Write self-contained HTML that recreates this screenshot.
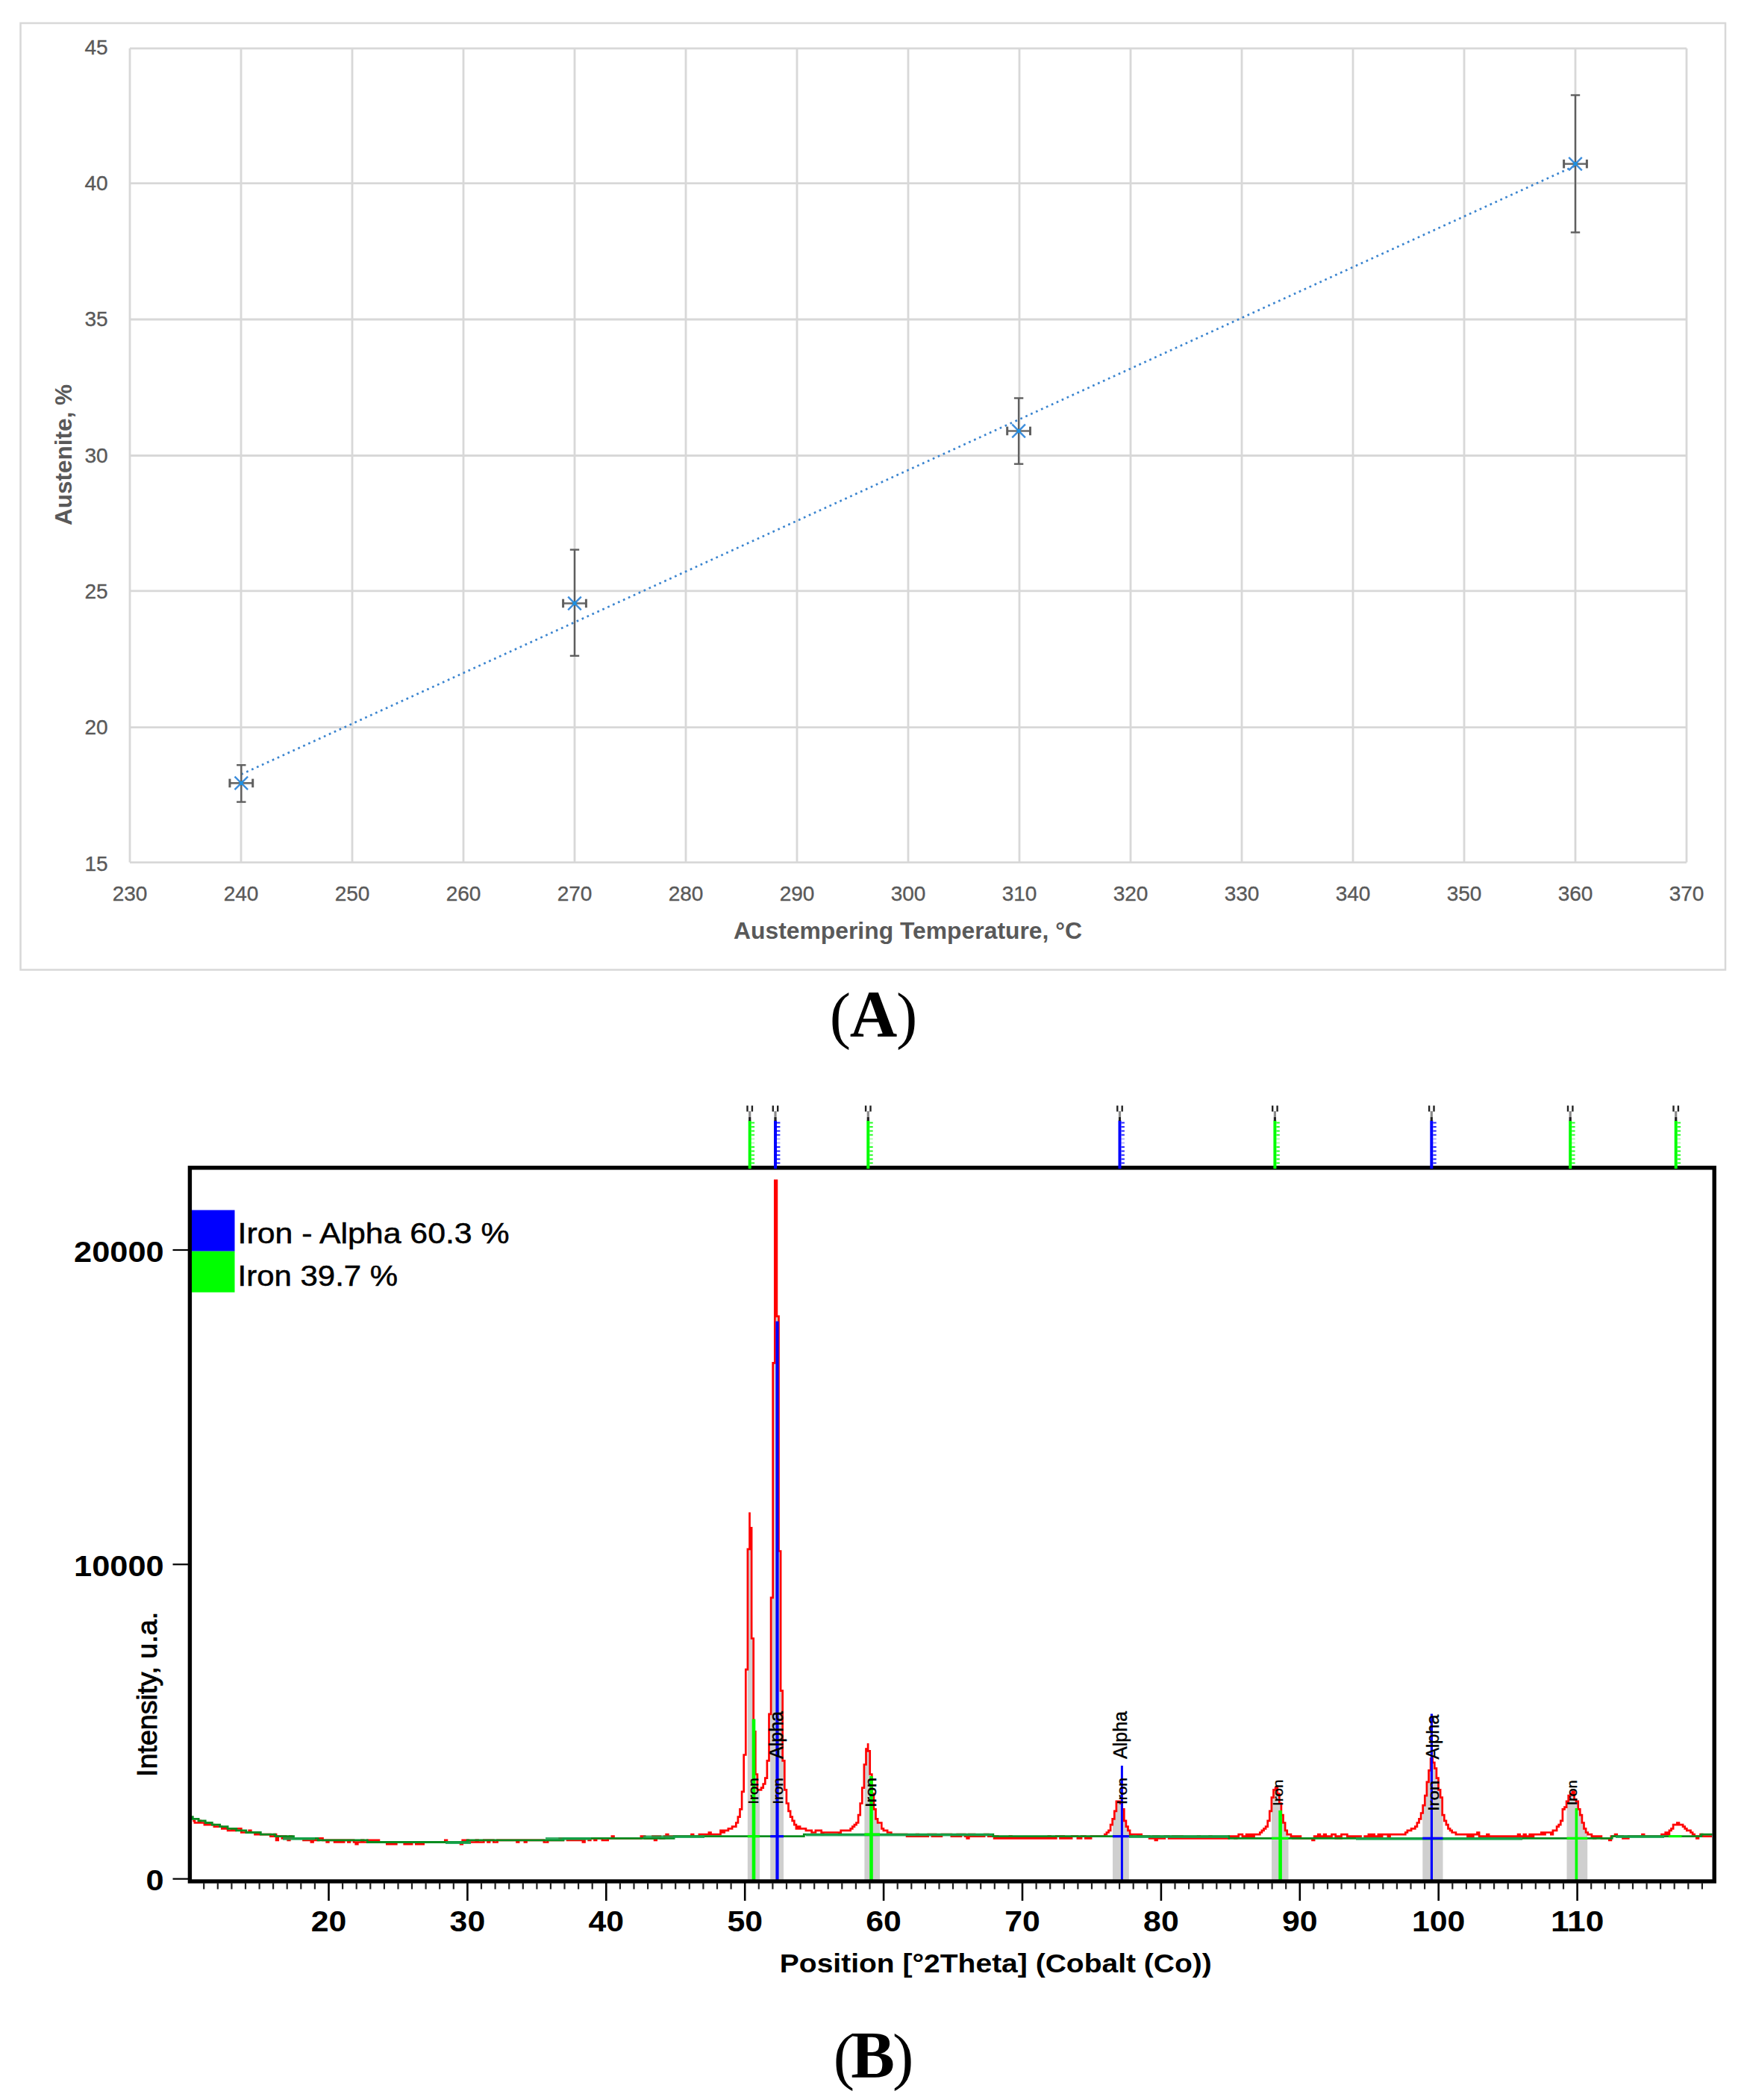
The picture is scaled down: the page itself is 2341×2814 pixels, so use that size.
<!DOCTYPE html>
<html lang="en"><head><meta charset="utf-8"><title>Figure</title>
<style>
html,body{margin:0;padding:0;background:#fff;}
body{width:2341px;height:2814px;overflow:hidden;}
svg{display:block;}
text{white-space:pre;}
</style></head><body>
<svg width="2341" height="2814" viewBox="0 0 2341 2814">
<rect width="2341" height="2814" fill="#fff"/>
<g id="chartA">
<rect x="27.5" y="31" width="2284.5" height="1268.5" fill="#fff" stroke="#d8d8d8" stroke-width="2.5"/>
<g stroke="#d8d8d8" stroke-width="2.8" fill="none">
<line x1="174.0" y1="64.8" x2="174.0" y2="1155.6"/>
<line x1="323.0" y1="64.8" x2="323.0" y2="1155.6"/>
<line x1="472.0" y1="64.8" x2="472.0" y2="1155.6"/>
<line x1="621.0" y1="64.8" x2="621.0" y2="1155.6"/>
<line x1="770.0" y1="64.8" x2="770.0" y2="1155.6"/>
<line x1="919.0" y1="64.8" x2="919.0" y2="1155.6"/>
<line x1="1068.0" y1="64.8" x2="1068.0" y2="1155.6"/>
<line x1="1217.0" y1="64.8" x2="1217.0" y2="1155.6"/>
<line x1="1366.0" y1="64.8" x2="1366.0" y2="1155.6"/>
<line x1="1515.0" y1="64.8" x2="1515.0" y2="1155.6"/>
<line x1="1664.0" y1="64.8" x2="1664.0" y2="1155.6"/>
<line x1="1813.0" y1="64.8" x2="1813.0" y2="1155.6"/>
<line x1="1962.0" y1="64.8" x2="1962.0" y2="1155.6"/>
<line x1="2111.0" y1="64.8" x2="2111.0" y2="1155.6"/>
<line x1="2260.0" y1="64.8" x2="2260.0" y2="1155.6"/>
<line x1="174.0" y1="64.8" x2="2260.0" y2="64.8"/>
<line x1="174.0" y1="245.6" x2="2260.0" y2="245.6"/>
<line x1="174.0" y1="428.0" x2="2260.0" y2="428.0"/>
<line x1="174.0" y1="610.5" x2="2260.0" y2="610.5"/>
<line x1="174.0" y1="791.8" x2="2260.0" y2="791.8"/>
<line x1="174.0" y1="974.6" x2="2260.0" y2="974.6"/>
<line x1="174.0" y1="1155.6" x2="2260.0" y2="1155.6"/>
</g>
<g font-family="'Liberation Sans', Arial, sans-serif" font-size="28" fill="#595959" stroke="#595959" stroke-width="0.35">
<text x="144.6" y="72.8" text-anchor="end">45</text>
<text x="144.6" y="255.1" text-anchor="end">40</text>
<text x="144.6" y="437.4" text-anchor="end">35</text>
<text x="144.6" y="619.7" text-anchor="end">30</text>
<text x="144.6" y="802.0" text-anchor="end">25</text>
<text x="144.6" y="984.3" text-anchor="end">20</text>
<text x="144.6" y="1166.6" text-anchor="end">15</text>
<text x="174.0" y="1206.6" text-anchor="middle">230</text>
<text x="323.0" y="1206.6" text-anchor="middle">240</text>
<text x="472.0" y="1206.6" text-anchor="middle">250</text>
<text x="621.0" y="1206.6" text-anchor="middle">260</text>
<text x="770.0" y="1206.6" text-anchor="middle">270</text>
<text x="919.0" y="1206.6" text-anchor="middle">280</text>
<text x="1068.0" y="1206.6" text-anchor="middle">290</text>
<text x="1217.0" y="1206.6" text-anchor="middle">300</text>
<text x="1366.0" y="1206.6" text-anchor="middle">310</text>
<text x="1515.0" y="1206.6" text-anchor="middle">320</text>
<text x="1664.0" y="1206.6" text-anchor="middle">330</text>
<text x="1813.0" y="1206.6" text-anchor="middle">340</text>
<text x="1962.0" y="1206.6" text-anchor="middle">350</text>
<text x="2111.0" y="1206.6" text-anchor="middle">360</text>
<text x="2260.0" y="1206.6" text-anchor="middle">370</text>
</g>
<text x="1216.5" y="1258.3" text-anchor="middle" font-family="'Liberation Sans', Arial, sans-serif" font-weight="bold" font-size="31" fill="#595959" textLength="467" lengthAdjust="spacingAndGlyphs">Austempering Temperature, °C</text>
<text transform="translate(96,609.5) rotate(-90)" text-anchor="middle" font-family="'Liberation Sans', Arial, sans-serif" font-weight="bold" font-size="31" fill="#595959" textLength="189" lengthAdjust="spacingAndGlyphs">Austenite, %</text>
<line x1="323.3" y1="1037.6" x2="2111" y2="222" stroke="#3a84cf" stroke-width="2.7" stroke-dasharray="2.7 4.9" fill="none"/>
<g stroke="#3c8ddc" stroke-width="2.4" fill="none"><line x1="314.5" y1="1040.6" x2="332.1" y2="1058.2"/><line x1="314.5" y1="1058.2" x2="332.1" y2="1040.6"/></g>
<g stroke="#5f5f5f" fill="none"><line x1="323.3" y1="1025.2" x2="323.3" y2="1074.6" stroke-width="2.4"/><line x1="317.1" y1="1025.2" x2="329.5" y2="1025.2" stroke-width="2.4"/><line x1="317.1" y1="1074.6" x2="329.5" y2="1074.6" stroke-width="2.4"/><line x1="307.3" y1="1049.4" x2="339.3" y2="1049.4" stroke-width="2.6" stroke="#6b6b6b"/><line x1="307.9" y1="1043.6" x2="307.9" y2="1055.2" stroke-width="3"/><line x1="338.7" y1="1043.6" x2="338.7" y2="1055.2" stroke-width="3"/></g>
<rect x="320.7" y="1046.8" width="5.2" height="5.2" fill="#1e8fe0"/>
<g stroke="#3c8ddc" stroke-width="2.4" fill="none"><line x1="761.2" y1="799.7" x2="778.8" y2="817.3"/><line x1="761.2" y1="817.3" x2="778.8" y2="799.7"/></g>
<g stroke="#5f5f5f" fill="none"><line x1="770.0" y1="736.6" x2="770.0" y2="878.8" stroke-width="2.4"/><line x1="763.8" y1="736.6" x2="776.2" y2="736.6" stroke-width="2.4"/><line x1="763.8" y1="878.8" x2="776.2" y2="878.8" stroke-width="2.4"/><line x1="754.0" y1="808.5" x2="786.0" y2="808.5" stroke-width="2.6" stroke="#6b6b6b"/><line x1="754.6" y1="802.7" x2="754.6" y2="814.3" stroke-width="3"/><line x1="785.4" y1="802.7" x2="785.4" y2="814.3" stroke-width="3"/></g>
<rect x="767.4" y="805.9" width="5.2" height="5.2" fill="#1e8fe0"/>
<g stroke="#3c8ddc" stroke-width="2.4" fill="none"><line x1="1356.3" y1="568.7" x2="1373.9" y2="586.3"/><line x1="1356.3" y1="586.3" x2="1373.9" y2="568.7"/></g>
<g stroke="#5f5f5f" fill="none"><line x1="1365.1" y1="533.5" x2="1365.1" y2="621.7" stroke-width="2.4"/><line x1="1358.9" y1="533.5" x2="1371.3" y2="533.5" stroke-width="2.4"/><line x1="1358.9" y1="621.7" x2="1371.3" y2="621.7" stroke-width="2.4"/><line x1="1349.1" y1="577.5" x2="1381.1" y2="577.5" stroke-width="2.6" stroke="#6b6b6b"/><line x1="1349.7" y1="571.7" x2="1349.7" y2="583.3" stroke-width="3"/><line x1="1380.5" y1="571.7" x2="1380.5" y2="583.3" stroke-width="3"/></g>
<rect x="1362.5" y="574.9" width="5.2" height="5.2" fill="#1e8fe0"/>
<g stroke="#3c8ddc" stroke-width="2.4" fill="none"><line x1="2102.2" y1="210.8" x2="2119.8" y2="228.4"/><line x1="2102.2" y1="228.4" x2="2119.8" y2="210.8"/></g>
<g stroke="#5f5f5f" fill="none"><line x1="2111.0" y1="127.5" x2="2111.0" y2="311.4" stroke-width="2.4"/><line x1="2104.8" y1="127.5" x2="2117.2" y2="127.5" stroke-width="2.4"/><line x1="2104.8" y1="311.4" x2="2117.2" y2="311.4" stroke-width="2.4"/><line x1="2095.0" y1="219.6" x2="2127.0" y2="219.6" stroke-width="2.6" stroke="#6b6b6b"/><line x1="2095.6" y1="213.8" x2="2095.6" y2="225.4" stroke-width="3"/><line x1="2126.4" y1="213.8" x2="2126.4" y2="225.4" stroke-width="3"/></g>
<rect x="2108.4" y="217.0" width="5.2" height="5.2" fill="#1e8fe0"/>
</g>
<g font-family="'Liberation Serif', 'Times New Roman', serif" font-size="88" fill="#000"><text x="1111.8" y="1388.6" font-size="85">(</text><text x="1170.5" y="1387.9" font-weight="bold" text-anchor="middle">A</text><text x="1229.3" y="1388.6" font-size="85" text-anchor="end">)</text></g>
<g id="chartB">
<defs><clipPath id="pc"><rect x="257.0" y="1564.8" width="2037.6" height="956.2"/></clipPath></defs>
<g fill="#cfcfcf" stroke="none">
<polygon points="1001.8,2519.0 1001.8,2237.1 1003.1,2075.9 1004.4,2075.9 1005.7,2047.3 1007.0,2047.3 1008.3,2195.5 1009.6,2195.5 1010.9,2320.3 1012.2,2320.3 1013.5,2377.5 1014.8,2377.5 1016.1,2398.3 1017.4,2398.3 1018.1,2398.3 1018.1,2519.0"/>
<polygon points="1032.2,2519.0 1032.2,2296.9 1033.5,2140.9 1034.8,2140.9 1036.1,1826.3 1037.4,1826.3 1038.7,1581.9 1040.0,1581.9 1041.3,1763.9 1042.6,1763.9 1043.9,2078.5 1045.2,2078.5 1046.5,2265.7 1047.8,2265.7 1049.1,2359.3 1050.0,2359.3 1050.0,2519.0"/>
<polygon points="1158.4,2519.0 1158.4,2364.5 1159.7,2364.5 1161.0,2343.7 1162.3,2343.7 1163.6,2346.3 1164.9,2346.3 1166.2,2377.5 1167.5,2377.5 1168.8,2403.5 1170.1,2403.5 1171.4,2424.3 1172.7,2424.3 1174.0,2437.3 1175.3,2437.3 1176.6,2442.5 1177.9,2442.5 1179.0,2442.5 1179.0,2519.0"/>
<polygon points="1491.0,2519.0 1491.0,2437.3 1492.3,2437.3 1493.6,2426.9 1494.9,2426.9 1496.2,2413.9 1497.5,2413.9 1498.8,2413.9 1500.1,2413.9 1501.4,2416.5 1502.7,2416.5 1504.0,2424.3 1505.3,2424.3 1506.6,2439.9 1507.9,2439.9 1509.2,2447.7 1510.5,2447.7 1511.8,2452.9 1512.8,2452.9 1512.8,2519.0"/>
<polygon points="1704.0,2519.0 1704.0,2408.7 1705.3,2408.7 1706.6,2398.3 1707.9,2398.3 1709.2,2395.7 1710.5,2395.7 1711.8,2403.5 1713.1,2403.5 1714.4,2416.5 1715.7,2416.5 1717.0,2432.1 1718.3,2432.1 1719.6,2442.5 1720.9,2442.5 1722.2,2452.9 1723.5,2452.9 1724.8,2458.1 1726.1,2458.1 1726.5,2458.1 1726.5,2519.0"/>
<polygon points="1906.3,2519.0 1906.3,2429.5 1907.6,2419.1 1908.9,2419.1 1910.2,2406.1 1911.5,2406.1 1912.8,2387.9 1914.1,2387.9 1915.4,2372.3 1916.7,2372.3 1918.0,2356.7 1919.3,2356.7 1920.6,2361.9 1921.9,2361.9 1923.2,2369.7 1924.5,2369.7 1925.8,2382.7 1927.1,2382.7 1928.4,2398.3 1929.7,2398.3 1931.0,2408.7 1932.3,2408.7 1933.5,2432.1 1933.5,2519.0"/>
<polygon points="2099.5,2519.0 2099.5,2413.9 2100.8,2413.9 2102.1,2406.1 2103.4,2406.1 2104.7,2403.5 2106.0,2403.5 2107.3,2400.9 2108.6,2400.9 2109.9,2411.3 2111.2,2411.3 2112.5,2413.9 2113.8,2413.9 2115.1,2424.3 2116.4,2424.3 2117.7,2432.1 2119.0,2432.1 2120.3,2442.5 2121.6,2442.5 2122.9,2450.3 2124.2,2450.3 2125.5,2455.5 2126.8,2455.5 2127.2,2455.5 2127.2,2519.0"/>
</g>
<polyline clip-path="url(#pc)" fill="none" stroke="#ff0000" stroke-width="2.7" stroke-linejoin="miter" points="258.3,2439.9 260.9,2439.9 260.9,2442.5 263.5,2442.5 266.1,2442.5 266.1,2439.9 268.7,2439.9 268.7,2442.5 271.3,2442.5 273.9,2442.5 273.9,2445.1 276.5,2445.1 279.1,2445.1 281.7,2445.1 284.3,2445.1 286.9,2445.1 286.9,2447.7 289.5,2447.7 292.1,2447.7 294.7,2447.7 297.3,2447.7 297.3,2450.3 299.9,2450.3 302.5,2450.3 305.1,2450.3 305.1,2452.9 307.7,2452.9 310.3,2452.9 310.3,2450.3 312.9,2450.3 312.9,2452.9 315.5,2452.9 315.5,2450.3 318.1,2450.3 320.7,2450.3 323.3,2450.3 323.3,2455.5 325.9,2455.5 328.5,2455.5 331.1,2455.5 333.7,2455.5 333.7,2452.9 336.3,2452.9 336.3,2455.5 338.9,2455.5 341.5,2455.5 341.5,2458.1 344.1,2458.1 346.7,2458.1 349.3,2458.1 351.9,2458.1 354.5,2458.1 357.1,2458.1 359.7,2458.1 362.3,2458.1 362.3,2460.7 364.9,2460.7 367.5,2460.7 367.5,2458.1 370.1,2458.1 370.1,2465.9 372.7,2465.9 372.7,2460.7 375.3,2460.7 377.9,2460.7 377.9,2463.3 380.5,2463.3 380.5,2460.7 383.1,2460.7 383.1,2463.3 385.7,2463.3 385.7,2465.9 388.3,2465.9 388.3,2460.7 390.9,2460.7 390.9,2463.3 393.5,2463.3 396.1,2463.3 398.7,2463.3 401.3,2463.3 403.9,2463.3 406.5,2463.3 406.5,2465.9 409.1,2465.9 409.1,2463.3 411.7,2463.3 411.7,2465.9 414.3,2465.9 416.9,2465.9 416.9,2468.5 419.5,2468.5 419.5,2463.3 422.1,2463.3 422.1,2465.9 424.7,2465.9 427.3,2465.9 427.3,2463.3 429.9,2463.3 432.5,2463.3 432.5,2465.9 435.1,2465.9 437.7,2465.9 437.7,2468.5 440.3,2468.5 440.3,2465.9 442.9,2465.9 445.5,2465.9 448.1,2465.9 448.1,2468.5 450.7,2468.5 450.7,2465.9 453.3,2465.9 453.3,2468.5 455.9,2468.5 455.9,2465.9 458.5,2465.9 458.5,2468.5 461.1,2468.5 461.1,2465.9 463.7,2465.9 466.3,2465.9 466.3,2468.5 468.9,2468.5 468.9,2465.9 471.5,2465.9 474.1,2465.9 474.1,2468.5 476.7,2468.5 476.7,2471.1 479.3,2471.1 479.3,2468.5 481.9,2468.5 484.5,2468.5 484.5,2465.9 487.1,2465.9 487.1,2468.5 489.7,2468.5 492.3,2468.5 492.3,2465.9 494.9,2465.9 497.5,2465.9 497.5,2468.5 500.1,2468.5 500.1,2465.9 502.7,2465.9 502.7,2468.5 505.3,2468.5 505.3,2465.9 507.9,2465.9 507.9,2468.5 510.5,2468.5 513.1,2468.5 515.7,2468.5 518.3,2468.5 518.3,2471.1 520.9,2471.1 520.9,2468.5 523.5,2468.5 523.5,2471.1 526.1,2471.1 526.1,2468.5 528.7,2468.5 528.7,2471.1 531.3,2471.1 531.3,2468.5 533.9,2468.5 536.5,2468.5 539.1,2468.5 541.7,2468.5 541.7,2471.1 544.3,2471.1 546.9,2471.1 546.9,2468.5 549.5,2468.5 549.5,2471.1 552.1,2471.1 552.1,2468.5 554.7,2468.5 557.3,2468.5 557.3,2471.1 559.9,2471.1 562.5,2471.1 565.1,2471.1 567.7,2471.1 567.7,2468.5 570.3,2468.5 572.9,2468.5 575.5,2468.5 578.1,2468.5 580.7,2468.5 583.3,2468.5 585.9,2468.5 588.5,2468.5 591.1,2468.5 593.7,2468.5 596.3,2468.5 596.3,2465.9 598.9,2465.9 598.9,2468.5 601.5,2468.5 604.1,2468.5 606.7,2468.5 609.3,2468.5 611.9,2468.5 614.5,2468.5 617.1,2468.5 617.1,2471.1 619.7,2471.1 619.7,2465.9 622.3,2465.9 622.3,2468.5 624.9,2468.5 624.9,2465.9 627.5,2465.9 627.5,2468.5 630.1,2468.5 632.7,2468.5 635.3,2468.5 637.9,2468.5 637.9,2465.9 640.5,2465.9 640.5,2468.5 643.1,2468.5 645.7,2468.5 648.3,2468.5 648.3,2465.9 650.9,2465.9 653.5,2465.9 653.5,2468.5 656.1,2468.5 656.1,2465.9 658.7,2465.9 661.3,2465.9 661.3,2468.5 663.9,2468.5 666.5,2468.5 666.5,2465.9 669.1,2465.9 671.7,2465.9 674.3,2465.9 676.9,2465.9 679.5,2465.9 682.1,2465.9 684.7,2465.9 687.3,2465.9 689.9,2465.9 692.5,2465.9 692.5,2468.5 695.1,2468.5 695.1,2465.9 697.7,2465.9 700.3,2465.9 702.9,2465.9 702.9,2468.5 705.5,2468.5 705.5,2465.9 708.1,2465.9 710.7,2465.9 713.3,2465.9 715.9,2465.9 718.5,2465.9 721.1,2465.9 723.7,2465.9 726.3,2465.9 728.9,2465.9 728.9,2468.5 731.5,2468.5 734.1,2468.5 734.1,2465.9 736.7,2465.9 739.3,2465.9 741.9,2465.9 744.5,2465.9 747.1,2465.9 749.7,2465.9 749.7,2463.3 752.3,2463.3 752.3,2465.9 754.9,2465.9 754.9,2463.3 757.5,2463.3 760.1,2463.3 760.1,2465.9 762.7,2465.9 762.7,2463.3 765.3,2463.3 765.3,2465.9 767.9,2465.9 767.9,2463.3 770.5,2463.3 770.5,2465.9 773.1,2465.9 773.1,2463.3 775.7,2463.3 775.7,2465.9 778.3,2465.9 780.9,2465.9 780.9,2468.5 783.5,2468.5 783.5,2463.3 786.1,2463.3 788.7,2463.3 788.7,2465.9 791.3,2465.9 791.3,2463.3 793.9,2463.3 796.5,2463.3 796.5,2465.9 799.1,2465.9 799.1,2463.3 801.7,2463.3 804.3,2463.3 806.9,2463.3 806.9,2465.9 809.5,2465.9 812.1,2465.9 814.7,2465.9 814.7,2463.3 817.3,2463.3 819.9,2463.3 819.9,2460.7 822.5,2460.7 822.5,2463.3 825.1,2463.3 827.7,2463.3 830.3,2463.3 832.9,2463.3 835.5,2463.3 838.1,2463.3 840.7,2463.3 843.3,2463.3 845.9,2463.3 848.5,2463.3 851.1,2463.3 853.7,2463.3 856.3,2463.3 858.9,2463.3 858.9,2460.7 861.5,2460.7 864.1,2460.7 864.1,2463.3 866.7,2463.3 869.3,2463.3 871.9,2463.3 874.5,2463.3 874.5,2460.7 877.1,2460.7 877.1,2465.9 879.7,2465.9 879.7,2460.7 882.3,2460.7 884.9,2460.7 884.9,2463.3 887.5,2463.3 890.1,2463.3 890.1,2460.7 892.7,2460.7 892.7,2458.1 895.3,2458.1 895.3,2460.7 897.9,2460.7 900.5,2460.7 903.1,2460.7 905.7,2460.7 908.3,2460.7 910.9,2460.7 913.5,2460.7 916.1,2460.7 918.7,2460.7 921.3,2460.7 923.9,2460.7 926.5,2460.7 926.5,2458.1 929.1,2458.1 929.1,2460.7 931.7,2460.7 934.3,2460.7 936.9,2460.7 936.9,2458.1 939.5,2458.1 942.1,2458.1 944.7,2458.1 947.3,2458.1 949.9,2458.1 949.9,2455.5 952.5,2455.5 952.5,2458.1 955.1,2458.1 957.7,2458.1 960.3,2458.1 962.9,2458.1 965.5,2458.1 965.5,2452.9 968.1,2452.9 968.1,2455.5 970.7,2455.5 970.7,2452.9 973.3,2452.9 975.9,2452.9 975.9,2450.3 978.5,2450.3 981.1,2450.3 981.1,2447.7 983.7,2447.7 986.3,2447.7 986.3,2442.5 988.9,2442.5 988.9,2434.7 991.5,2434.7 991.5,2424.3 994.1,2424.3 994.1,2400.9 996.7,2400.9 996.7,2351.5 999.3,2351.5 999.3,2237.1 1001.9,2237.1 1001.9,2075.9 1004.5,2075.9 1004.5,2026.5 1004.5,2047.3 1007.1,2047.3 1007.1,2195.5 1009.7,2195.5 1009.7,2320.3 1012.3,2320.3 1012.3,2377.5 1014.9,2377.5 1014.9,2398.3 1017.5,2398.3 1020.1,2398.3 1020.1,2395.7 1022.7,2395.7 1022.7,2390.5 1025.3,2390.5 1025.3,2382.7 1027.9,2382.7 1027.9,2359.3 1030.5,2359.3 1030.5,2296.9 1033.1,2296.9 1033.1,2140.9 1035.7,2140.9 1035.7,1826.3 1038.3,1826.3 1038.3,1584.5 1038.3,1581.9 1040.9,1581.9 1040.9,1763.9 1043.5,1763.9 1043.5,2078.5 1046.1,2078.5 1046.1,2265.7 1048.7,2265.7 1048.7,2359.3 1051.3,2359.3 1051.3,2398.3 1053.9,2398.3 1053.9,2416.5 1056.5,2416.5 1056.5,2426.9 1059.1,2426.9 1059.1,2434.7 1061.7,2434.7 1061.7,2439.9 1064.3,2439.9 1064.3,2445.1 1066.9,2445.1 1066.9,2450.3 1069.5,2450.3 1069.5,2447.7 1072.1,2447.7 1072.1,2450.3 1074.7,2450.3 1077.3,2450.3 1079.9,2450.3 1079.9,2452.9 1082.5,2452.9 1085.1,2452.9 1087.7,2452.9 1087.7,2455.5 1090.3,2455.5 1092.9,2455.5 1092.9,2452.9 1095.5,2452.9 1098.1,2452.9 1100.7,2452.9 1100.7,2458.1 1103.3,2458.1 1103.3,2455.5 1105.9,2455.5 1108.5,2455.5 1111.1,2455.5 1113.7,2455.5 1116.3,2455.5 1118.9,2455.5 1121.5,2455.5 1124.1,2455.5 1124.1,2458.1 1126.7,2458.1 1126.7,2452.9 1129.3,2452.9 1131.9,2452.9 1134.5,2452.9 1137.1,2452.9 1139.7,2452.9 1139.7,2450.3 1142.3,2450.3 1142.3,2447.7 1144.9,2447.7 1144.9,2445.1 1147.5,2445.1 1147.5,2442.5 1150.1,2442.5 1150.1,2432.1 1152.7,2432.1 1152.7,2416.5 1155.3,2416.5 1155.3,2395.7 1157.9,2395.7 1157.9,2364.5 1160.5,2364.5 1160.5,2343.7 1163.1,2343.7 1163.1,2335.9 1163.1,2346.3 1165.7,2346.3 1165.7,2377.5 1168.3,2377.5 1168.3,2403.5 1170.9,2403.5 1170.9,2424.3 1173.5,2424.3 1173.5,2437.3 1176.1,2437.3 1176.1,2442.5 1178.7,2442.5 1181.3,2442.5 1181.3,2450.3 1183.9,2450.3 1183.9,2452.9 1186.5,2452.9 1189.1,2452.9 1189.1,2455.5 1191.7,2455.5 1194.3,2455.5 1194.3,2458.1 1196.9,2458.1 1199.5,2458.1 1202.1,2458.1 1204.7,2458.1 1207.3,2458.1 1209.9,2458.1 1212.5,2458.1 1215.1,2458.1 1215.1,2460.7 1217.7,2460.7 1220.3,2460.7 1222.9,2460.7 1225.5,2460.7 1228.1,2460.7 1228.1,2458.1 1230.7,2458.1 1230.7,2460.7 1233.3,2460.7 1235.9,2460.7 1238.5,2460.7 1241.1,2460.7 1243.7,2460.7 1243.7,2458.1 1246.3,2458.1 1248.9,2458.1 1248.9,2460.7 1251.5,2460.7 1251.5,2458.1 1254.1,2458.1 1254.1,2460.7 1256.7,2460.7 1259.3,2460.7 1261.9,2460.7 1261.9,2458.1 1264.5,2458.1 1267.1,2458.1 1269.7,2458.1 1272.3,2458.1 1274.9,2458.1 1274.9,2460.7 1277.5,2460.7 1280.1,2460.7 1282.7,2460.7 1282.7,2458.1 1285.3,2458.1 1285.3,2460.7 1287.9,2460.7 1287.9,2458.1 1290.5,2458.1 1293.1,2458.1 1293.1,2460.7 1295.7,2460.7 1295.7,2463.3 1298.3,2463.3 1298.3,2458.1 1300.9,2458.1 1300.9,2460.7 1303.5,2460.7 1303.5,2458.1 1306.1,2458.1 1306.1,2460.7 1308.7,2460.7 1311.3,2460.7 1313.9,2460.7 1316.5,2460.7 1319.1,2460.7 1319.1,2458.1 1321.7,2458.1 1324.3,2458.1 1324.3,2460.7 1326.9,2460.7 1329.5,2460.7 1332.1,2460.7 1332.1,2463.3 1334.7,2463.3 1334.7,2460.7 1337.3,2460.7 1337.3,2463.3 1339.9,2463.3 1342.5,2463.3 1345.1,2463.3 1347.7,2463.3 1350.3,2463.3 1352.9,2463.3 1352.9,2460.7 1355.5,2460.7 1355.5,2463.3 1358.1,2463.3 1360.7,2463.3 1363.3,2463.3 1365.9,2463.3 1368.5,2463.3 1371.1,2463.3 1373.7,2463.3 1376.3,2463.3 1378.9,2463.3 1381.5,2463.3 1384.1,2463.3 1386.7,2463.3 1389.3,2463.3 1391.9,2463.3 1394.5,2463.3 1397.1,2463.3 1399.7,2463.3 1402.3,2463.3 1404.9,2463.3 1404.9,2460.7 1407.5,2460.7 1407.5,2463.3 1410.1,2463.3 1412.7,2463.3 1415.3,2463.3 1415.3,2460.7 1417.9,2460.7 1420.5,2460.7 1420.5,2463.3 1423.1,2463.3 1423.1,2460.7 1425.7,2460.7 1425.7,2463.3 1428.3,2463.3 1430.9,2463.3 1433.5,2463.3 1436.1,2463.3 1436.1,2460.7 1438.7,2460.7 1441.3,2460.7 1443.9,2460.7 1443.9,2463.3 1446.5,2463.3 1449.1,2463.3 1449.1,2460.7 1451.7,2460.7 1454.3,2460.7 1454.3,2463.3 1456.9,2463.3 1459.5,2463.3 1462.1,2463.3 1462.1,2460.7 1464.7,2460.7 1467.3,2460.7 1469.9,2460.7 1472.5,2460.7 1475.1,2460.7 1477.7,2460.7 1480.3,2460.7 1480.3,2458.1 1482.9,2458.1 1482.9,2455.5 1485.5,2455.5 1485.5,2452.9 1488.1,2452.9 1488.1,2445.1 1490.7,2445.1 1490.7,2437.3 1493.3,2437.3 1493.3,2426.9 1495.9,2426.9 1495.9,2413.9 1498.5,2413.9 1501.1,2413.9 1501.1,2416.5 1503.7,2416.5 1503.7,2424.3 1506.3,2424.3 1506.3,2439.9 1508.9,2439.9 1508.9,2447.7 1511.5,2447.7 1511.5,2452.9 1514.1,2452.9 1514.1,2460.7 1516.7,2460.7 1516.7,2458.1 1519.3,2458.1 1521.9,2458.1 1524.5,2458.1 1524.5,2460.7 1527.1,2460.7 1527.1,2458.1 1529.7,2458.1 1529.7,2460.7 1532.3,2460.7 1534.9,2460.7 1537.5,2460.7 1540.1,2460.7 1540.1,2463.3 1542.7,2463.3 1545.3,2463.3 1545.3,2460.7 1547.9,2460.7 1547.9,2465.9 1550.5,2465.9 1550.5,2460.7 1553.1,2460.7 1553.1,2463.3 1555.7,2463.3 1558.3,2463.3 1560.9,2463.3 1560.9,2460.7 1563.5,2460.7 1566.1,2460.7 1566.1,2463.3 1568.7,2463.3 1571.3,2463.3 1571.3,2460.7 1573.9,2460.7 1573.9,2463.3 1576.5,2463.3 1576.5,2460.7 1579.1,2460.7 1579.1,2463.3 1581.7,2463.3 1581.7,2460.7 1584.3,2460.7 1584.3,2463.3 1586.9,2463.3 1589.5,2463.3 1592.1,2463.3 1594.7,2463.3 1597.3,2463.3 1599.9,2463.3 1602.5,2463.3 1605.1,2463.3 1605.1,2460.7 1607.7,2460.7 1607.7,2463.3 1610.3,2463.3 1612.9,2463.3 1615.5,2463.3 1618.1,2463.3 1620.7,2463.3 1620.7,2460.7 1623.3,2460.7 1623.3,2463.3 1625.9,2463.3 1628.5,2463.3 1631.1,2463.3 1633.7,2463.3 1636.3,2463.3 1638.9,2463.3 1641.5,2463.3 1644.1,2463.3 1646.7,2463.3 1646.7,2460.7 1649.3,2460.7 1651.9,2460.7 1654.5,2460.7 1654.5,2463.3 1657.1,2463.3 1657.1,2460.7 1659.7,2460.7 1659.7,2458.1 1662.3,2458.1 1664.9,2458.1 1664.9,2460.7 1667.5,2460.7 1670.1,2460.7 1670.1,2458.1 1672.7,2458.1 1672.7,2460.7 1675.3,2460.7 1675.3,2458.1 1677.9,2458.1 1677.9,2460.7 1680.5,2460.7 1680.5,2458.1 1683.1,2458.1 1685.7,2458.1 1688.3,2458.1 1688.3,2455.5 1690.9,2455.5 1690.9,2452.9 1693.5,2452.9 1693.5,2450.3 1696.1,2450.3 1696.1,2447.7 1698.7,2447.7 1698.7,2439.9 1701.3,2439.9 1701.3,2426.9 1703.9,2426.9 1703.9,2408.7 1706.5,2408.7 1706.5,2398.3 1709.1,2398.3 1709.1,2395.7 1711.7,2395.7 1711.7,2403.5 1714.3,2403.5 1714.3,2416.5 1716.9,2416.5 1716.9,2432.1 1719.5,2432.1 1719.5,2442.5 1722.1,2442.5 1722.1,2452.9 1724.7,2452.9 1724.7,2458.1 1727.3,2458.1 1729.9,2458.1 1729.9,2460.7 1732.5,2460.7 1732.5,2463.3 1735.1,2463.3 1735.1,2460.7 1737.7,2460.7 1737.7,2463.3 1740.3,2463.3 1740.3,2460.7 1742.9,2460.7 1742.9,2463.3 1745.5,2463.3 1748.1,2463.3 1750.7,2463.3 1753.3,2463.3 1755.9,2463.3 1758.5,2463.3 1758.5,2465.9 1761.1,2465.9 1761.1,2460.7 1763.7,2460.7 1766.3,2460.7 1766.3,2458.1 1768.9,2458.1 1768.9,2460.7 1771.5,2460.7 1774.1,2460.7 1774.1,2458.1 1776.7,2458.1 1776.7,2460.7 1779.3,2460.7 1781.9,2460.7 1784.5,2460.7 1784.5,2458.1 1787.1,2458.1 1789.7,2458.1 1789.7,2463.3 1792.3,2463.3 1792.3,2460.7 1794.9,2460.7 1794.9,2463.3 1797.5,2463.3 1797.5,2458.1 1800.1,2458.1 1802.7,2458.1 1805.3,2458.1 1805.3,2460.7 1807.9,2460.7 1810.5,2460.7 1813.1,2460.7 1815.7,2460.7 1818.3,2460.7 1820.9,2460.7 1823.5,2460.7 1823.5,2463.3 1826.1,2463.3 1828.7,2463.3 1828.7,2460.7 1831.3,2460.7 1833.9,2460.7 1833.9,2458.1 1836.5,2458.1 1836.5,2460.7 1839.1,2460.7 1839.1,2458.1 1841.7,2458.1 1841.7,2460.7 1844.3,2460.7 1846.9,2460.7 1846.9,2458.1 1849.5,2458.1 1849.5,2460.7 1852.1,2460.7 1852.1,2458.1 1854.7,2458.1 1857.3,2458.1 1859.9,2458.1 1859.9,2460.7 1862.5,2460.7 1862.5,2458.1 1865.1,2458.1 1867.7,2458.1 1870.3,2458.1 1872.9,2458.1 1875.5,2458.1 1878.1,2458.1 1880.7,2458.1 1883.3,2458.1 1883.3,2455.5 1885.9,2455.5 1885.9,2452.9 1888.5,2452.9 1891.1,2452.9 1891.1,2450.3 1893.7,2450.3 1896.3,2450.3 1896.3,2447.7 1898.9,2447.7 1898.9,2442.5 1901.5,2442.5 1901.5,2437.3 1904.1,2437.3 1904.1,2429.5 1906.7,2429.5 1906.7,2419.1 1909.3,2419.1 1909.3,2406.1 1911.9,2406.1 1911.9,2387.9 1914.5,2387.9 1914.5,2372.3 1917.1,2372.3 1917.1,2356.7 1919.7,2356.7 1919.7,2361.9 1922.3,2361.9 1922.3,2369.7 1924.9,2369.7 1924.9,2382.7 1927.5,2382.7 1927.5,2398.3 1930.1,2398.3 1930.1,2408.7 1932.7,2408.7 1932.7,2432.1 1935.3,2432.1 1935.3,2439.9 1937.9,2439.9 1937.9,2445.1 1940.5,2445.1 1940.5,2450.3 1943.1,2450.3 1943.1,2452.9 1945.7,2452.9 1945.7,2455.5 1948.3,2455.5 1950.9,2455.5 1950.9,2458.1 1953.5,2458.1 1956.1,2458.1 1958.7,2458.1 1961.3,2458.1 1963.9,2458.1 1966.5,2458.1 1966.5,2460.7 1969.1,2460.7 1969.1,2458.1 1971.7,2458.1 1971.7,2460.7 1974.3,2460.7 1974.3,2458.1 1976.9,2458.1 1979.5,2458.1 1979.5,2455.5 1982.1,2455.5 1982.1,2460.7 1984.7,2460.7 1987.3,2460.7 1989.9,2460.7 1992.5,2460.7 1992.5,2458.1 1995.1,2458.1 1995.1,2460.7 1997.7,2460.7 2000.3,2460.7 2002.9,2460.7 2005.5,2460.7 2008.1,2460.7 2010.7,2460.7 2013.3,2460.7 2015.9,2460.7 2018.5,2460.7 2021.1,2460.7 2023.7,2460.7 2026.3,2460.7 2028.9,2460.7 2031.5,2460.7 2034.1,2460.7 2034.1,2458.1 2036.7,2458.1 2036.7,2463.3 2039.3,2463.3 2039.3,2460.7 2041.9,2460.7 2041.9,2458.1 2044.5,2458.1 2044.5,2460.7 2047.1,2460.7 2049.7,2460.7 2049.7,2458.1 2052.3,2458.1 2052.3,2460.7 2054.9,2460.7 2054.9,2458.1 2057.5,2458.1 2060.1,2458.1 2062.7,2458.1 2065.3,2458.1 2065.3,2455.5 2067.9,2455.5 2067.9,2458.1 2070.5,2458.1 2070.5,2455.5 2073.1,2455.5 2075.7,2455.5 2078.3,2455.5 2078.3,2458.1 2080.9,2458.1 2080.9,2452.9 2083.5,2452.9 2086.1,2452.9 2086.1,2447.7 2088.7,2447.7 2088.7,2445.1 2091.3,2445.1 2091.3,2439.9 2093.9,2439.9 2093.9,2424.3 2096.5,2424.3 2096.5,2421.7 2099.1,2421.7 2099.1,2413.9 2101.7,2413.9 2101.7,2406.1 2104.3,2406.1 2104.3,2403.5 2106.9,2403.5 2106.9,2400.9 2109.5,2400.9 2109.5,2411.3 2112.1,2411.3 2112.1,2413.9 2114.7,2413.9 2114.7,2424.3 2117.3,2424.3 2117.3,2432.1 2119.9,2432.1 2119.9,2442.5 2122.5,2442.5 2122.5,2450.3 2125.1,2450.3 2125.1,2455.5 2127.7,2455.5 2127.7,2458.1 2130.3,2458.1 2132.9,2458.1 2132.9,2460.7 2135.5,2460.7 2135.5,2463.3 2138.1,2463.3 2138.1,2460.7 2140.7,2460.7 2143.3,2460.7 2145.9,2460.7 2145.9,2463.3 2148.5,2463.3 2151.1,2463.3 2153.7,2463.3 2156.3,2463.3 2156.3,2465.9 2158.9,2465.9 2158.9,2460.7 2161.5,2460.7 2164.1,2460.7 2164.1,2458.1 2166.7,2458.1 2166.7,2460.7 2169.3,2460.7 2171.9,2460.7 2174.5,2460.7 2174.5,2463.3 2177.1,2463.3 2179.7,2463.3 2182.3,2463.3 2182.3,2460.7 2184.9,2460.7 2187.5,2460.7 2190.1,2460.7 2192.7,2460.7 2195.3,2460.7 2197.9,2460.7 2200.5,2460.7 2200.5,2458.1 2203.1,2458.1 2203.1,2460.7 2205.7,2460.7 2208.3,2460.7 2210.9,2460.7 2213.5,2460.7 2216.1,2460.7 2218.7,2460.7 2221.3,2460.7 2223.9,2460.7 2226.5,2460.7 2226.5,2458.1 2229.1,2458.1 2231.7,2458.1 2231.7,2455.5 2234.3,2455.5 2234.3,2458.1 2236.9,2458.1 2236.9,2452.9 2239.5,2452.9 2239.5,2450.3 2242.1,2450.3 2242.1,2445.1 2244.7,2445.1 2247.3,2445.1 2247.3,2442.5 2249.9,2442.5 2249.9,2445.1 2252.5,2445.1 2255.1,2445.1 2255.1,2447.7 2257.7,2447.7 2257.7,2450.3 2260.3,2450.3 2260.3,2452.9 2262.9,2452.9 2265.5,2452.9 2265.5,2455.5 2268.1,2455.5 2268.1,2458.1 2270.7,2458.1 2270.7,2460.7 2273.3,2460.7 2273.3,2463.3 2275.9,2463.3 2275.9,2460.7 2278.5,2460.7 2278.5,2458.1 2281.1,2458.1 2281.1,2460.7 2283.7,2460.7 2286.3,2460.7 2288.9,2460.7 2291.5,2460.7 2294.1,2460.7"/>
<polyline fill="none" stroke="#078c1f" stroke-width="2.8" stroke-linejoin="miter" points="257.0,2434.7 258.3,2434.7 258.3,2437.3 266.1,2437.3 266.1,2439.9 275.2,2439.9 275.2,2442.5 284.3,2442.5 284.3,2445.1 294.7,2445.1 294.7,2447.7 305.1,2447.7 305.1,2450.3 316.8,2450.3 316.8,2452.9 329.8,2452.9 329.8,2455.5 349.3,2455.5 349.3,2458.1 368.8,2458.1 368.8,2460.7 393.5,2460.7 393.5,2463.3 426.0,2463.3 426.0,2465.9 492.3,2465.9 492.3,2468.5 626.2,2468.5 626.2,2465.9 754.9,2465.9 754.9,2463.3 903.1,2463.3 903.1,2460.7 1077.3,2460.7 1077.3,2458.1 1330.8,2458.1 1330.8,2460.7 1646.7,2460.7 1646.7,2463.3 2160.2,2463.3 2160.2,2460.7 2279.8,2460.7 2279.8,2458.1 2294.6,2458.1"/>
<line x1="1080" y1="2458.7" x2="1330" y2="2458.7" stroke="#14a44c" stroke-width="3.6" opacity="0.85"/>
<line x1="1513" y1="2461.3" x2="1646" y2="2461.3" stroke="#14a44c" stroke-width="3.6" opacity="0.85"/>
<line x1="1817" y1="2463.9" x2="2040" y2="2463.9" stroke="#14a44c" stroke-width="3.6" opacity="0.85"/>
<line x1="2165" y1="2461.3" x2="2230" y2="2461.3" stroke="#14a44c" stroke-width="3.6" opacity="0.85"/>
<line x1="379" y1="2463.9" x2="422" y2="2463.9" stroke="#14a44c" stroke-width="3.6" opacity="0.85"/>
<line x1="597" y1="2469.1" x2="631" y2="2469.1" stroke="#14a44c" stroke-width="3.6" opacity="0.85"/>
<line x1="731" y1="2463.9" x2="792" y2="2463.9" stroke="#14a44c" stroke-width="3.6" opacity="0.85"/>
<line x1="862" y1="2461.3" x2="944" y2="2461.3" stroke="#14a44c" stroke-width="3.6" opacity="0.85"/>
<line x1="1001.8" y1="2460.7" x2="1018.1" y2="2460.7" stroke="#00ff00" stroke-width="3.2"/>
<line x1="1010.0" y1="2303.5" x2="1010.0" y2="2519" stroke="#00ff00" stroke-width="4.6"/>
<line x1="1032.2" y1="2460.7" x2="1050.0" y2="2460.7" stroke="#0000ff" stroke-width="3.2"/>
<line x1="1041.5" y1="1770.5" x2="1041.5" y2="2519" stroke="#0000ff" stroke-width="4.2"/>
<line x1="1158.4" y1="2458.1" x2="1179.0" y2="2458.1" stroke="#00ff00" stroke-width="3.2"/>
<line x1="1167.5" y1="2380.0" x2="1167.5" y2="2519" stroke="#00ff00" stroke-width="4.6"/>
<line x1="1491.0" y1="2460.7" x2="1512.8" y2="2460.7" stroke="#0000ff" stroke-width="3.2"/>
<line x1="1503.4" y1="2366.0" x2="1503.4" y2="2519" stroke="#0000ff" stroke-width="3.0"/>
<line x1="1704.0" y1="2463.3" x2="1726.5" y2="2463.3" stroke="#00ff00" stroke-width="3.2"/>
<line x1="1715.6" y1="2426.0" x2="1715.6" y2="2519" stroke="#00ff00" stroke-width="4.6"/>
<line x1="1906.3" y1="2463.3" x2="1933.5" y2="2463.3" stroke="#0000ff" stroke-width="3.2"/>
<line x1="1918.4" y1="2296.5" x2="1918.4" y2="2519" stroke="#0000ff" stroke-width="3.2"/>
<line x1="2099.5" y1="2463.3" x2="2127.2" y2="2463.3" stroke="#00ff00" stroke-width="3.2"/>
<line x1="2112.4" y1="2423.0" x2="2112.4" y2="2519" stroke="#00ff00" stroke-width="3.6"/>
<line x1="2236" y1="2460.7" x2="2253.5" y2="2460.7" stroke="#00ff00" stroke-width="3"/>
<rect x="254.4" y="1564.8" width="2042.8" height="956.2" fill="none" stroke="#000" stroke-width="5.4"/>
<g stroke="#000" fill="none">
<line x1="273.2" y1="2523" x2="273.2" y2="2531.5" stroke-width="2.2" stroke="#222"/>
<line x1="291.8" y1="2523" x2="291.8" y2="2531.5" stroke-width="2.2" stroke="#222"/>
<line x1="310.4" y1="2523" x2="310.4" y2="2531.5" stroke-width="2.2" stroke="#222"/>
<line x1="329.0" y1="2523" x2="329.0" y2="2531.5" stroke-width="2.2" stroke="#222"/>
<line x1="347.6" y1="2523" x2="347.6" y2="2531.5" stroke-width="2.2" stroke="#222"/>
<line x1="366.1" y1="2523" x2="366.1" y2="2531.5" stroke-width="2.2" stroke="#222"/>
<line x1="384.7" y1="2523" x2="384.7" y2="2531.5" stroke-width="2.2" stroke="#222"/>
<line x1="403.3" y1="2523" x2="403.3" y2="2531.5" stroke-width="2.2" stroke="#222"/>
<line x1="421.9" y1="2523" x2="421.9" y2="2531.5" stroke-width="2.2" stroke="#222"/>
<line x1="440.5" y1="2523" x2="440.5" y2="2547" stroke-width="2.6"/>
<line x1="459.1" y1="2523" x2="459.1" y2="2531.5" stroke-width="2.2" stroke="#222"/>
<line x1="477.7" y1="2523" x2="477.7" y2="2531.5" stroke-width="2.2" stroke="#222"/>
<line x1="496.3" y1="2523" x2="496.3" y2="2531.5" stroke-width="2.2" stroke="#222"/>
<line x1="514.9" y1="2523" x2="514.9" y2="2531.5" stroke-width="2.2" stroke="#222"/>
<line x1="533.5" y1="2523" x2="533.5" y2="2531.5" stroke-width="2.2" stroke="#222"/>
<line x1="552.0" y1="2523" x2="552.0" y2="2531.5" stroke-width="2.2" stroke="#222"/>
<line x1="570.6" y1="2523" x2="570.6" y2="2531.5" stroke-width="2.2" stroke="#222"/>
<line x1="589.2" y1="2523" x2="589.2" y2="2531.5" stroke-width="2.2" stroke="#222"/>
<line x1="607.8" y1="2523" x2="607.8" y2="2531.5" stroke-width="2.2" stroke="#222"/>
<line x1="626.4" y1="2523" x2="626.4" y2="2547" stroke-width="2.6"/>
<line x1="645.0" y1="2523" x2="645.0" y2="2531.5" stroke-width="2.2" stroke="#222"/>
<line x1="663.6" y1="2523" x2="663.6" y2="2531.5" stroke-width="2.2" stroke="#222"/>
<line x1="682.2" y1="2523" x2="682.2" y2="2531.5" stroke-width="2.2" stroke="#222"/>
<line x1="700.8" y1="2523" x2="700.8" y2="2531.5" stroke-width="2.2" stroke="#222"/>
<line x1="719.4" y1="2523" x2="719.4" y2="2531.5" stroke-width="2.2" stroke="#222"/>
<line x1="737.9" y1="2523" x2="737.9" y2="2531.5" stroke-width="2.2" stroke="#222"/>
<line x1="756.5" y1="2523" x2="756.5" y2="2531.5" stroke-width="2.2" stroke="#222"/>
<line x1="775.1" y1="2523" x2="775.1" y2="2531.5" stroke-width="2.2" stroke="#222"/>
<line x1="793.7" y1="2523" x2="793.7" y2="2531.5" stroke-width="2.2" stroke="#222"/>
<line x1="812.3" y1="2523" x2="812.3" y2="2547" stroke-width="2.6"/>
<line x1="830.9" y1="2523" x2="830.9" y2="2531.5" stroke-width="2.2" stroke="#222"/>
<line x1="849.5" y1="2523" x2="849.5" y2="2531.5" stroke-width="2.2" stroke="#222"/>
<line x1="868.1" y1="2523" x2="868.1" y2="2531.5" stroke-width="2.2" stroke="#222"/>
<line x1="886.7" y1="2523" x2="886.7" y2="2531.5" stroke-width="2.2" stroke="#222"/>
<line x1="905.2" y1="2523" x2="905.2" y2="2531.5" stroke-width="2.2" stroke="#222"/>
<line x1="923.8" y1="2523" x2="923.8" y2="2531.5" stroke-width="2.2" stroke="#222"/>
<line x1="942.4" y1="2523" x2="942.4" y2="2531.5" stroke-width="2.2" stroke="#222"/>
<line x1="961.0" y1="2523" x2="961.0" y2="2531.5" stroke-width="2.2" stroke="#222"/>
<line x1="979.6" y1="2523" x2="979.6" y2="2531.5" stroke-width="2.2" stroke="#222"/>
<line x1="998.2" y1="2523" x2="998.2" y2="2547" stroke-width="2.6"/>
<line x1="1016.8" y1="2523" x2="1016.8" y2="2531.5" stroke-width="2.2" stroke="#222"/>
<line x1="1035.4" y1="2523" x2="1035.4" y2="2531.5" stroke-width="2.2" stroke="#222"/>
<line x1="1054.0" y1="2523" x2="1054.0" y2="2531.5" stroke-width="2.2" stroke="#222"/>
<line x1="1072.6" y1="2523" x2="1072.6" y2="2531.5" stroke-width="2.2" stroke="#222"/>
<line x1="1091.2" y1="2523" x2="1091.2" y2="2531.5" stroke-width="2.2" stroke="#222"/>
<line x1="1109.7" y1="2523" x2="1109.7" y2="2531.5" stroke-width="2.2" stroke="#222"/>
<line x1="1128.3" y1="2523" x2="1128.3" y2="2531.5" stroke-width="2.2" stroke="#222"/>
<line x1="1146.9" y1="2523" x2="1146.9" y2="2531.5" stroke-width="2.2" stroke="#222"/>
<line x1="1165.5" y1="2523" x2="1165.5" y2="2531.5" stroke-width="2.2" stroke="#222"/>
<line x1="1184.1" y1="2523" x2="1184.1" y2="2547" stroke-width="2.6"/>
<line x1="1202.7" y1="2523" x2="1202.7" y2="2531.5" stroke-width="2.2" stroke="#222"/>
<line x1="1221.3" y1="2523" x2="1221.3" y2="2531.5" stroke-width="2.2" stroke="#222"/>
<line x1="1239.9" y1="2523" x2="1239.9" y2="2531.5" stroke-width="2.2" stroke="#222"/>
<line x1="1258.5" y1="2523" x2="1258.5" y2="2531.5" stroke-width="2.2" stroke="#222"/>
<line x1="1277.0" y1="2523" x2="1277.0" y2="2531.5" stroke-width="2.2" stroke="#222"/>
<line x1="1295.6" y1="2523" x2="1295.6" y2="2531.5" stroke-width="2.2" stroke="#222"/>
<line x1="1314.2" y1="2523" x2="1314.2" y2="2531.5" stroke-width="2.2" stroke="#222"/>
<line x1="1332.8" y1="2523" x2="1332.8" y2="2531.5" stroke-width="2.2" stroke="#222"/>
<line x1="1351.4" y1="2523" x2="1351.4" y2="2531.5" stroke-width="2.2" stroke="#222"/>
<line x1="1370.0" y1="2523" x2="1370.0" y2="2547" stroke-width="2.6"/>
<line x1="1388.6" y1="2523" x2="1388.6" y2="2531.5" stroke-width="2.2" stroke="#222"/>
<line x1="1407.2" y1="2523" x2="1407.2" y2="2531.5" stroke-width="2.2" stroke="#222"/>
<line x1="1425.8" y1="2523" x2="1425.8" y2="2531.5" stroke-width="2.2" stroke="#222"/>
<line x1="1444.4" y1="2523" x2="1444.4" y2="2531.5" stroke-width="2.2" stroke="#222"/>
<line x1="1463.0" y1="2523" x2="1463.0" y2="2531.5" stroke-width="2.2" stroke="#222"/>
<line x1="1481.5" y1="2523" x2="1481.5" y2="2531.5" stroke-width="2.2" stroke="#222"/>
<line x1="1500.1" y1="2523" x2="1500.1" y2="2531.5" stroke-width="2.2" stroke="#222"/>
<line x1="1518.7" y1="2523" x2="1518.7" y2="2531.5" stroke-width="2.2" stroke="#222"/>
<line x1="1537.3" y1="2523" x2="1537.3" y2="2531.5" stroke-width="2.2" stroke="#222"/>
<line x1="1555.9" y1="2523" x2="1555.9" y2="2547" stroke-width="2.6"/>
<line x1="1574.5" y1="2523" x2="1574.5" y2="2531.5" stroke-width="2.2" stroke="#222"/>
<line x1="1593.1" y1="2523" x2="1593.1" y2="2531.5" stroke-width="2.2" stroke="#222"/>
<line x1="1611.7" y1="2523" x2="1611.7" y2="2531.5" stroke-width="2.2" stroke="#222"/>
<line x1="1630.3" y1="2523" x2="1630.3" y2="2531.5" stroke-width="2.2" stroke="#222"/>
<line x1="1648.8" y1="2523" x2="1648.8" y2="2531.5" stroke-width="2.2" stroke="#222"/>
<line x1="1667.4" y1="2523" x2="1667.4" y2="2531.5" stroke-width="2.2" stroke="#222"/>
<line x1="1686.0" y1="2523" x2="1686.0" y2="2531.5" stroke-width="2.2" stroke="#222"/>
<line x1="1704.6" y1="2523" x2="1704.6" y2="2531.5" stroke-width="2.2" stroke="#222"/>
<line x1="1723.2" y1="2523" x2="1723.2" y2="2531.5" stroke-width="2.2" stroke="#222"/>
<line x1="1741.8" y1="2523" x2="1741.8" y2="2547" stroke-width="2.6"/>
<line x1="1760.4" y1="2523" x2="1760.4" y2="2531.5" stroke-width="2.2" stroke="#222"/>
<line x1="1779.0" y1="2523" x2="1779.0" y2="2531.5" stroke-width="2.2" stroke="#222"/>
<line x1="1797.6" y1="2523" x2="1797.6" y2="2531.5" stroke-width="2.2" stroke="#222"/>
<line x1="1816.2" y1="2523" x2="1816.2" y2="2531.5" stroke-width="2.2" stroke="#222"/>
<line x1="1834.8" y1="2523" x2="1834.8" y2="2531.5" stroke-width="2.2" stroke="#222"/>
<line x1="1853.3" y1="2523" x2="1853.3" y2="2531.5" stroke-width="2.2" stroke="#222"/>
<line x1="1871.9" y1="2523" x2="1871.9" y2="2531.5" stroke-width="2.2" stroke="#222"/>
<line x1="1890.5" y1="2523" x2="1890.5" y2="2531.5" stroke-width="2.2" stroke="#222"/>
<line x1="1909.1" y1="2523" x2="1909.1" y2="2531.5" stroke-width="2.2" stroke="#222"/>
<line x1="1927.7" y1="2523" x2="1927.7" y2="2547" stroke-width="2.6"/>
<line x1="1946.3" y1="2523" x2="1946.3" y2="2531.5" stroke-width="2.2" stroke="#222"/>
<line x1="1964.9" y1="2523" x2="1964.9" y2="2531.5" stroke-width="2.2" stroke="#222"/>
<line x1="1983.5" y1="2523" x2="1983.5" y2="2531.5" stroke-width="2.2" stroke="#222"/>
<line x1="2002.1" y1="2523" x2="2002.1" y2="2531.5" stroke-width="2.2" stroke="#222"/>
<line x1="2020.7" y1="2523" x2="2020.7" y2="2531.5" stroke-width="2.2" stroke="#222"/>
<line x1="2039.2" y1="2523" x2="2039.2" y2="2531.5" stroke-width="2.2" stroke="#222"/>
<line x1="2057.8" y1="2523" x2="2057.8" y2="2531.5" stroke-width="2.2" stroke="#222"/>
<line x1="2076.4" y1="2523" x2="2076.4" y2="2531.5" stroke-width="2.2" stroke="#222"/>
<line x1="2095.0" y1="2523" x2="2095.0" y2="2531.5" stroke-width="2.2" stroke="#222"/>
<line x1="2113.6" y1="2523" x2="2113.6" y2="2547" stroke-width="2.6"/>
<line x1="2132.2" y1="2523" x2="2132.2" y2="2531.5" stroke-width="2.2" stroke="#222"/>
<line x1="2150.8" y1="2523" x2="2150.8" y2="2531.5" stroke-width="2.2" stroke="#222"/>
<line x1="2169.4" y1="2523" x2="2169.4" y2="2531.5" stroke-width="2.2" stroke="#222"/>
<line x1="2188.0" y1="2523" x2="2188.0" y2="2531.5" stroke-width="2.2" stroke="#222"/>
<line x1="2206.6" y1="2523" x2="2206.6" y2="2531.5" stroke-width="2.2" stroke="#222"/>
<line x1="2225.1" y1="2523" x2="2225.1" y2="2531.5" stroke-width="2.2" stroke="#222"/>
<line x1="2243.7" y1="2523" x2="2243.7" y2="2531.5" stroke-width="2.2" stroke="#222"/>
<line x1="2262.3" y1="2523" x2="2262.3" y2="2531.5" stroke-width="2.2" stroke="#222"/>
<line x1="2280.9" y1="2523" x2="2280.9" y2="2531.5" stroke-width="2.2" stroke="#222"/>
<line x1="231.5" y1="2517.7" x2="252" y2="2517.7" stroke-width="2.2"/>
<line x1="231.5" y1="2096.3" x2="252" y2="2096.3" stroke-width="2.2"/>
<line x1="231.5" y1="1675.0" x2="252" y2="1675.0" stroke-width="2.2"/>
</g>
<g font-family="'Liberation Sans', Arial, sans-serif" font-weight="bold" font-size="39" fill="#000">
<text x="440.5" y="2588.4" text-anchor="middle" textLength="47.6" lengthAdjust="spacingAndGlyphs">20</text>
<text x="626.4" y="2588.4" text-anchor="middle" textLength="47.6" lengthAdjust="spacingAndGlyphs">30</text>
<text x="812.3" y="2588.4" text-anchor="middle" textLength="47.6" lengthAdjust="spacingAndGlyphs">40</text>
<text x="998.2" y="2588.4" text-anchor="middle" textLength="47.6" lengthAdjust="spacingAndGlyphs">50</text>
<text x="1184.1" y="2588.4" text-anchor="middle" textLength="47.6" lengthAdjust="spacingAndGlyphs">60</text>
<text x="1370.0" y="2588.4" text-anchor="middle" textLength="47.6" lengthAdjust="spacingAndGlyphs">70</text>
<text x="1555.9" y="2588.4" text-anchor="middle" textLength="47.6" lengthAdjust="spacingAndGlyphs">80</text>
<text x="1741.8" y="2588.4" text-anchor="middle" textLength="47.6" lengthAdjust="spacingAndGlyphs">90</text>
<text x="1927.7" y="2588.4" text-anchor="middle" textLength="71.4" lengthAdjust="spacingAndGlyphs">100</text>
<text x="2113.6" y="2588.4" text-anchor="middle" textLength="71.4" lengthAdjust="spacingAndGlyphs">110</text>
<text x="219.6" y="2533.3" text-anchor="end" textLength="24.1" lengthAdjust="spacingAndGlyphs">0</text>
<text x="219.6" y="2111.9" text-anchor="end" textLength="120.5" lengthAdjust="spacingAndGlyphs">10000</text>
<text x="219.6" y="1690.6" text-anchor="end" textLength="120.5" lengthAdjust="spacingAndGlyphs">20000</text>
</g>
<text x="1334.3" y="2643.2" text-anchor="middle" font-family="'Liberation Sans', Arial, sans-serif" font-weight="bold" font-size="35" fill="#000" textLength="579" lengthAdjust="spacingAndGlyphs">Position [°2Theta] (Cobalt (Co))</text>
<text transform="translate(210,2270.4) rotate(-90)" text-anchor="middle" font-family="'Liberation Sans', Arial, sans-serif" font-size="37" fill="#000" stroke="#000" stroke-width="0.9" textLength="221" lengthAdjust="spacingAndGlyphs">Intensity, u.a.</text>
<rect x="257" y="1621.5" width="57.5" height="55.2" fill="#0000ff"/>
<rect x="257" y="1676.7" width="57.5" height="55" fill="#00ff00"/>
<g font-family="'Liberation Sans', Arial, sans-serif" font-size="38" fill="#000" stroke="#000" stroke-width="0.5">
<text x="318.6" y="1665.8" textLength="364" lengthAdjust="spacingAndGlyphs">Iron - Alpha 60.3 %</text>
<text x="318.6" y="1723" textLength="214.5" lengthAdjust="spacingAndGlyphs">Iron 39.7 %</text>
</g>
<line x1="1004.7" y1="1501.5" x2="1004.7" y2="1566" stroke="#00ff00" stroke-width="4"/>
<line x1="1008.9" y1="1503.6" x2="1008.9" y2="1525" stroke="#00ff00" stroke-width="4.4" stroke-dasharray="2 3.4" opacity="0.85"/>
<line x1="1008.9" y1="1525.2" x2="1008.9" y2="1536" stroke="#00ff00" stroke-width="4.4" stroke-dasharray="2 3.4" opacity="0.3"/>
<line x1="1008.9" y1="1536" x2="1008.9" y2="1562" stroke="#00ff00" stroke-width="4.4" stroke-dasharray="2 3.4" opacity="0.85"/>
<g stroke="#222" stroke-width="2.4" fill="none"><line x1="1001.5" y1="1481.5" x2="1001.5" y2="1489.5"/><line x1="1007.9" y1="1481.5" x2="1007.9" y2="1489.5"/><line x1="1004.7" y1="1489" x2="1004.7" y2="1502" stroke="#8a8a8a" stroke-width="3.2"/><line x1="1004.7" y1="1497" x2="1004.7" y2="1502" stroke="#222" stroke-width="3"/></g>
<line x1="1039.0" y1="1501.5" x2="1039.0" y2="1566" stroke="#0000ff" stroke-width="4"/>
<line x1="1043.2" y1="1503.6" x2="1043.2" y2="1525" stroke="#0000ff" stroke-width="4.4" stroke-dasharray="2 3.4" opacity="0.85"/>
<line x1="1043.2" y1="1525.2" x2="1043.2" y2="1536" stroke="#0000ff" stroke-width="4.4" stroke-dasharray="2 3.4" opacity="0.3"/>
<line x1="1043.2" y1="1536" x2="1043.2" y2="1562" stroke="#0000ff" stroke-width="4.4" stroke-dasharray="2 3.4" opacity="0.85"/>
<g stroke="#222" stroke-width="2.4" fill="none"><line x1="1035.8" y1="1481.5" x2="1035.8" y2="1489.5"/><line x1="1042.2" y1="1481.5" x2="1042.2" y2="1489.5"/><line x1="1039.0" y1="1489" x2="1039.0" y2="1502" stroke="#8a8a8a" stroke-width="3.2"/><line x1="1039.0" y1="1497" x2="1039.0" y2="1502" stroke="#222" stroke-width="3"/></g>
<line x1="1163.3" y1="1501.5" x2="1163.3" y2="1566" stroke="#00ff00" stroke-width="4"/>
<line x1="1167.5" y1="1503.6" x2="1167.5" y2="1525" stroke="#00ff00" stroke-width="4.4" stroke-dasharray="2 3.4" opacity="0.85"/>
<line x1="1167.5" y1="1525.2" x2="1167.5" y2="1536" stroke="#00ff00" stroke-width="4.4" stroke-dasharray="2 3.4" opacity="0.3"/>
<line x1="1167.5" y1="1536" x2="1167.5" y2="1562" stroke="#00ff00" stroke-width="4.4" stroke-dasharray="2 3.4" opacity="0.85"/>
<g stroke="#222" stroke-width="2.4" fill="none"><line x1="1160.1" y1="1481.5" x2="1160.1" y2="1489.5"/><line x1="1166.5" y1="1481.5" x2="1166.5" y2="1489.5"/><line x1="1163.3" y1="1489" x2="1163.3" y2="1502" stroke="#8a8a8a" stroke-width="3.2"/><line x1="1163.3" y1="1497" x2="1163.3" y2="1502" stroke="#222" stroke-width="3"/></g>
<line x1="1500.5" y1="1501.5" x2="1500.5" y2="1566" stroke="#0000ff" stroke-width="4"/>
<line x1="1504.7" y1="1503.6" x2="1504.7" y2="1525" stroke="#0000ff" stroke-width="4.4" stroke-dasharray="2 3.4" opacity="0.85"/>
<line x1="1504.7" y1="1525.2" x2="1504.7" y2="1536" stroke="#0000ff" stroke-width="4.4" stroke-dasharray="2 3.4" opacity="0.3"/>
<line x1="1504.7" y1="1536" x2="1504.7" y2="1562" stroke="#0000ff" stroke-width="4.4" stroke-dasharray="2 3.4" opacity="0.85"/>
<g stroke="#222" stroke-width="2.4" fill="none"><line x1="1497.3" y1="1481.5" x2="1497.3" y2="1489.5"/><line x1="1503.7" y1="1481.5" x2="1503.7" y2="1489.5"/><line x1="1500.5" y1="1489" x2="1500.5" y2="1502" stroke="#8a8a8a" stroke-width="3.2"/><line x1="1500.5" y1="1497" x2="1500.5" y2="1502" stroke="#222" stroke-width="3"/></g>
<line x1="1708.4" y1="1501.5" x2="1708.4" y2="1566" stroke="#00ff00" stroke-width="4"/>
<line x1="1712.6" y1="1503.6" x2="1712.6" y2="1525" stroke="#00ff00" stroke-width="4.4" stroke-dasharray="2 3.4" opacity="0.85"/>
<line x1="1712.6" y1="1525.2" x2="1712.6" y2="1536" stroke="#00ff00" stroke-width="4.4" stroke-dasharray="2 3.4" opacity="0.3"/>
<line x1="1712.6" y1="1536" x2="1712.6" y2="1562" stroke="#00ff00" stroke-width="4.4" stroke-dasharray="2 3.4" opacity="0.85"/>
<g stroke="#222" stroke-width="2.4" fill="none"><line x1="1705.2" y1="1481.5" x2="1705.2" y2="1489.5"/><line x1="1711.6" y1="1481.5" x2="1711.6" y2="1489.5"/><line x1="1708.4" y1="1489" x2="1708.4" y2="1502" stroke="#8a8a8a" stroke-width="3.2"/><line x1="1708.4" y1="1497" x2="1708.4" y2="1502" stroke="#222" stroke-width="3"/></g>
<line x1="1918.3" y1="1501.5" x2="1918.3" y2="1566" stroke="#0000ff" stroke-width="4"/>
<line x1="1922.5" y1="1503.6" x2="1922.5" y2="1525" stroke="#0000ff" stroke-width="4.4" stroke-dasharray="2 3.4" opacity="0.85"/>
<line x1="1922.5" y1="1525.2" x2="1922.5" y2="1536" stroke="#0000ff" stroke-width="4.4" stroke-dasharray="2 3.4" opacity="0.3"/>
<line x1="1922.5" y1="1536" x2="1922.5" y2="1562" stroke="#0000ff" stroke-width="4.4" stroke-dasharray="2 3.4" opacity="0.85"/>
<g stroke="#222" stroke-width="2.4" fill="none"><line x1="1915.1" y1="1481.5" x2="1915.1" y2="1489.5"/><line x1="1921.5" y1="1481.5" x2="1921.5" y2="1489.5"/><line x1="1918.3" y1="1489" x2="1918.3" y2="1502" stroke="#8a8a8a" stroke-width="3.2"/><line x1="1918.3" y1="1497" x2="1918.3" y2="1502" stroke="#222" stroke-width="3"/></g>
<line x1="2104.2" y1="1501.5" x2="2104.2" y2="1566" stroke="#00ff00" stroke-width="4"/>
<line x1="2108.4" y1="1503.6" x2="2108.4" y2="1525" stroke="#00ff00" stroke-width="4.4" stroke-dasharray="2 3.4" opacity="0.85"/>
<line x1="2108.4" y1="1525.2" x2="2108.4" y2="1536" stroke="#00ff00" stroke-width="4.4" stroke-dasharray="2 3.4" opacity="0.3"/>
<line x1="2108.4" y1="1536" x2="2108.4" y2="1562" stroke="#00ff00" stroke-width="4.4" stroke-dasharray="2 3.4" opacity="0.85"/>
<g stroke="#222" stroke-width="2.4" fill="none"><line x1="2101.0" y1="1481.5" x2="2101.0" y2="1489.5"/><line x1="2107.4" y1="1481.5" x2="2107.4" y2="1489.5"/><line x1="2104.2" y1="1489" x2="2104.2" y2="1502" stroke="#8a8a8a" stroke-width="3.2"/><line x1="2104.2" y1="1497" x2="2104.2" y2="1502" stroke="#222" stroke-width="3"/></g>
<line x1="2245.7" y1="1501.5" x2="2245.7" y2="1566" stroke="#00ff00" stroke-width="4"/>
<line x1="2249.9" y1="1503.6" x2="2249.9" y2="1525" stroke="#00ff00" stroke-width="4.4" stroke-dasharray="2 3.4" opacity="0.85"/>
<line x1="2249.9" y1="1525.2" x2="2249.9" y2="1536" stroke="#00ff00" stroke-width="4.4" stroke-dasharray="2 3.4" opacity="0.3"/>
<line x1="2249.9" y1="1536" x2="2249.9" y2="1562" stroke="#00ff00" stroke-width="4.4" stroke-dasharray="2 3.4" opacity="0.85"/>
<g stroke="#222" stroke-width="2.4" fill="none"><line x1="2242.5" y1="1481.5" x2="2242.5" y2="1489.5"/><line x1="2248.9" y1="1481.5" x2="2248.9" y2="1489.5"/><line x1="2245.7" y1="1489" x2="2245.7" y2="1502" stroke="#8a8a8a" stroke-width="3.2"/><line x1="2245.7" y1="1497" x2="2245.7" y2="1502" stroke="#222" stroke-width="3"/></g>
<text transform="translate(1015.6,2417.7) rotate(-90)" font-family="'Liberation Sans', Arial, sans-serif" font-size="18" fill="#000" stroke="#000" stroke-width="0.45" textLength="35.5" lengthAdjust="spacingAndGlyphs">Iron</text>
<text transform="translate(1048.5,2417.7) rotate(-90)" font-family="'Liberation Sans', Arial, sans-serif" font-size="18" fill="#000" stroke="#000" stroke-width="0.45" textLength="35.5" lengthAdjust="spacingAndGlyphs">Iron</text>
<text transform="translate(1048.5,2357.0) rotate(-90)" font-family="'Liberation Sans', Arial, sans-serif" font-size="25" fill="#000" stroke="#000" stroke-width="0.45" textLength="64" lengthAdjust="spacingAndGlyphs">Alpha</text>
<text transform="translate(1173.9,2422.0) rotate(-90)" font-family="'Liberation Sans', Arial, sans-serif" font-size="20" fill="#000" stroke="#000" stroke-width="0.45" textLength="40" lengthAdjust="spacingAndGlyphs">Iron</text>
<text transform="translate(1510.0,2418.0) rotate(-90)" font-family="'Liberation Sans', Arial, sans-serif" font-size="18" fill="#000" stroke="#000" stroke-width="0.45" textLength="36" lengthAdjust="spacingAndGlyphs">Iron</text>
<text transform="translate(1510.0,2357.0) rotate(-90)" font-family="'Liberation Sans', Arial, sans-serif" font-size="25" fill="#000" stroke="#000" stroke-width="0.45" textLength="64" lengthAdjust="spacingAndGlyphs">Alpha</text>
<text transform="translate(1718.6,2420.0) rotate(-90)" font-family="'Liberation Sans', Arial, sans-serif" font-size="18" fill="#000" stroke="#000" stroke-width="0.45" textLength="35.5" lengthAdjust="spacingAndGlyphs">Iron</text>
<text transform="translate(1928.0,2427.0) rotate(-90)" font-family="'Liberation Sans', Arial, sans-serif" font-size="21" fill="#000" stroke="#000" stroke-width="0.45" textLength="41" lengthAdjust="spacingAndGlyphs">Iron</text>
<text transform="translate(1928.0,2357.6) rotate(-90)" font-family="'Liberation Sans', Arial, sans-serif" font-size="24" fill="#000" stroke="#000" stroke-width="0.45" textLength="60" lengthAdjust="spacingAndGlyphs">Alpha</text>
<text transform="translate(2113.0,2419.0) rotate(-90)" font-family="'Liberation Sans', Arial, sans-serif" font-size="18" fill="#000" stroke="#000" stroke-width="0.45" textLength="33.5" lengthAdjust="spacingAndGlyphs">Iron</text>
</g>
<g font-family="'Liberation Serif', 'Times New Roman', serif" font-size="88" fill="#000"><text x="1116.8" y="2783.6" font-size="85">(</text><text x="1169.5" y="2783.2" font-weight="bold" text-anchor="middle">B</text><text x="1224.3" y="2783.6" font-size="85" text-anchor="end">)</text></g>
</svg>
</body></html>
